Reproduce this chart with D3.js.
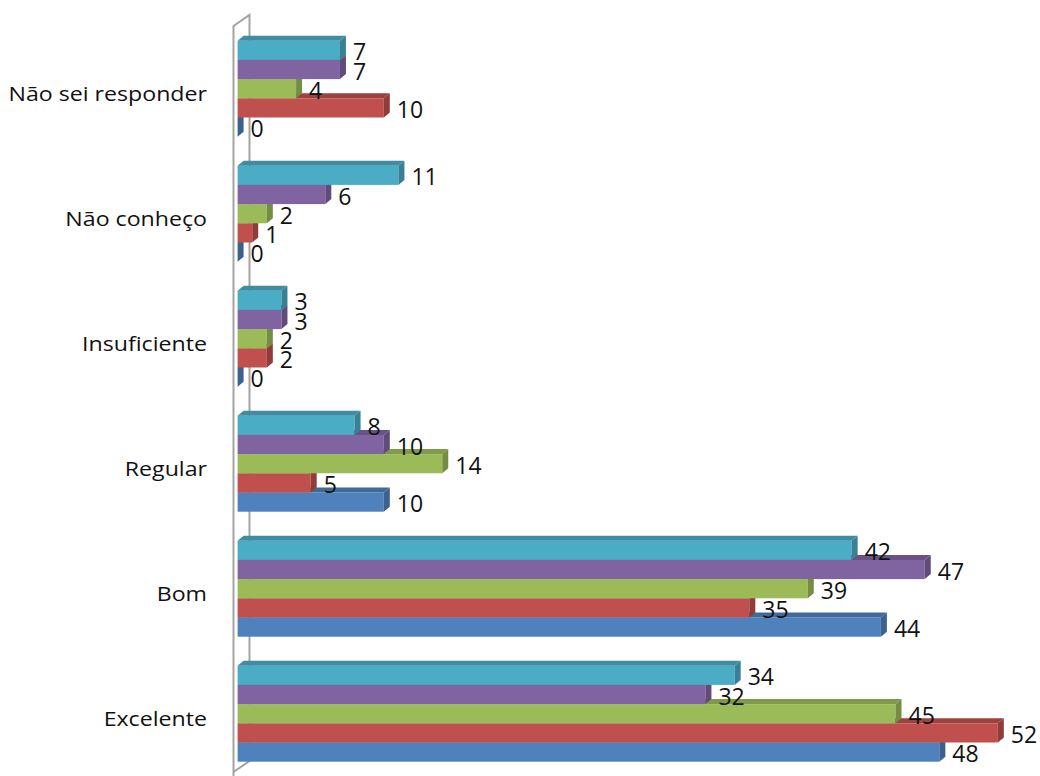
<!DOCTYPE html>
<html>
<head>
<meta charset="utf-8">
<script src="https://cdn.jsdelivr.net/npm/d3@7"></script>
<style>
  html, body { margin: 0; padding: 0; background: #fff; }
  svg { display: block; }
  text { font-family: "Open Sans", "Noto Sans", sans-serif; fill: #111; }
</style>
</head>
<body>
<svg id="chart" width="1040" height="776"></svg>
<script>
// Rating categories, listed top to bottom as drawn
const categories = ["Não sei responder", "Não conheço", "Insuficiente", "Regular", "Bom", "Excelente"];

// One array per series, values in the same order as categories
const serie1 = [0, 0, 0, 10, 44, 48];
const serie2 = [10, 1, 2, 5, 35, 52];
const serie3 = [4, 2, 2, 14, 39, 45];
const serie4 = [7, 6, 3, 10, 47, 32];
const serie5 = [7, 11, 3, 8, 42, 34];

const seriesNames = ["Série 1", "Série 2", "Série 3", "Série 4", "Série 5"];
const seriesValues = [serie1, serie2, serie3, serie4, serie5];
const seriesColors = ["#4F81BD", "#C0504D", "#9BBB59", "#8064A2", "#4BACC6"];

const width = 1040, height = 776;
const svg = d3.select("#chart");

// Value axis (horizontal); the plot runs past the right edge of the canvas
const x = d3.scaleLinear().domain([0, 60]).range([237.6, 1114.8]);

// Category bands, top to bottom
const y = d3.scaleBand()
  .domain(categories)
  .range([26.2, 776.2])
  .paddingInner(0.232)
  .paddingOuter(0.116);

// Series inside each band: last series on top, first series at the bottom
const yi = d3.scaleBand()
  .domain(d3.range(seriesNames.length).reverse())
  .range([0, y.bandwidth()])
  .padding(0);

// 3D extrusion offsets of the bars
const dx = 6, dy = 5;
// Wall depth offsets
const wdx = 16, wdy = 11;

// Side wall drawn as a thin outlined plate on the left
const wallX = 233.5;
const wallTop = 26, wallBottom = 772;
const wall = svg.append("g").attr("fill", "none").attr("stroke", "#a3a3a3").attr("stroke-width", 2);
wall.append("path").attr("d", `M${wallX},${height} L${wallX},${wallTop} L${wallX + wdx},${wallTop - wdy} L${wallX + wdx},${wallBottom - wdy} L${wallX},${wallBottom}`);

const shade = (c, k) => d3.rgb(c).darker(k).formatHex();

// Bars: per category, draw from the bottom series upward so each bar's
// front face covers the top face of the bar below it
const barsG = svg.append("g");
categories.forEach((cat, ci) => {
  seriesValues.forEach((vals, si) => {
    const v = vals[ci];
    const x0 = x(0), x1 = x(v);
    const y0 = y(cat) + yi(si);
    const h = yi.bandwidth();
    const col = seriesColors[si];
    const g = barsG.append("g");
    g.append("rect")
      .attr("x", x0).attr("y", y0)
      .attr("width", Math.max(0, x1 - x0)).attr("height", h)
      .attr("fill", col);
    g.append("path")
      .attr("d", `M${x0},${y0} L${x0 + dx},${y0 - dy} L${x1 + dx},${y0 - dy} L${x1},${y0} Z`)
      .attr("fill", shade(col, 0.55));
    g.append("path")
      .attr("d", `M${x1},${y0} L${x1 + dx},${y0 - dy} L${x1 + dx},${y0 + h - dy} L${x1},${y0 + h} Z`)
      .attr("fill", shade(col, 0.8));
  });
});

// Value labels, drawn above all bars
const labelsG = svg.append("g").attr("font-size", 23);
categories.forEach((cat, ci) => {
  seriesValues.forEach((vals, si) => {
    const v = vals[ci];
    labelsG.append("text")
      .attr("x", x(v) + 13)
      .attr("y", y(cat) + yi(si) + yi.bandwidth() / 2 + 1)
      .attr("dominant-baseline", "central")
      .text(v);
  });
});

// Category axis labels, slightly widened horizontally
const catG = svg.append("g").attr("font-size", 20.5).attr("text-anchor", "end");
categories.forEach(cat => {
  catG.append("text")
    .attr("transform", `translate(207,${y(cat) + y.bandwidth() / 2 + 12}) scale(1.13,1)`)
    .text(cat);
});
</script>
</body>
</html>
